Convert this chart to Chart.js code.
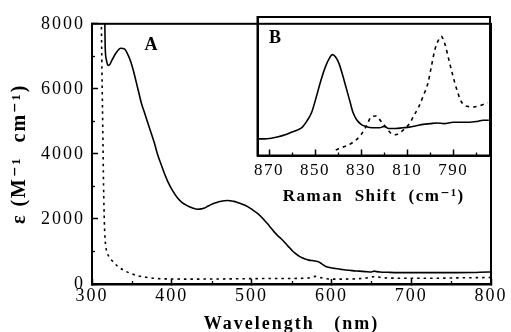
<!DOCTYPE html>
<html>
<head>
<meta charset="utf-8">
<script src="https://cdn.jsdelivr.net/npm/chart.js@4/dist/chart.umd.min.js"></script>
<style>
  html, body { margin: 0; padding: 0; background: #fff; }
  #wrap { position: relative; width: 511px; height: 332px; background: #fff; }
  canvas { position: absolute; left: 0; top: 0; }
</style>
</head>
<body>
<div id="wrap">
  <canvas id="main" width="511" height="332"></canvas>
  <canvas id="inset" width="511" height="332"></canvas>
</div>
<script>
// ---------- Data: panel A (absorption spectrum) ----------
const solidWavelength = [316, 316.5, 318, 320, 322, 325, 330, 336, 341, 345, 349, 353, 357, 362, 366, 370, 374, 378, 382, 387, 391, 395, 401, 407, 413, 420, 426, 432, 437, 441, 445, 449, 453, 458, 462, 466, 470, 474, 478, 482, 487, 491, 495, 499, 503, 507, 511, 516, 520, 524, 528, 533, 537, 541, 545, 549, 552, 556, 560, 564, 568, 572, 576, 580, 584, 588, 593, 599, 605, 612, 618, 626, 635, 643, 650, 654, 657, 661, 670, 683, 700, 716, 737, 758, 778, 797, 800];
const solidEpsilon    = [8200, 7300, 6900, 6720, 6740, 6880, 7100, 7250, 7220, 7050, 6800, 6450, 6050, 5550, 5250, 4950, 4650, 4350, 4000, 3650, 3380, 3150, 2870, 2650, 2500, 2400, 2340, 2300, 2310, 2340, 2390, 2440, 2480, 2520, 2545, 2560, 2565, 2555, 2540, 2510, 2470, 2430, 2380, 2320, 2250, 2180, 2090, 1960, 1850, 1730, 1610, 1480, 1390, 1290, 1180, 1080, 1000, 920, 850, 800, 760, 735, 720, 705, 680, 620, 540, 500, 475, 450, 430, 410, 395, 380, 370, 395, 380, 370, 360, 350, 350, 350, 350, 350, 355, 370, 370];

const dashedWavelength = [311.5, 312.5, 313.5, 314.5, 315.5, 316.5, 318, 321, 325, 332, 340, 348, 358, 370, 380, 400, 420, 460, 500, 540, 570, 576, 580, 586, 594, 610, 640, 650, 655, 662, 680, 720, 760, 800];
const dashedEpsilon    = [8500, 6500, 4800, 3000, 1900, 1350, 1050, 850, 720, 550, 420, 330, 250, 200, 170, 155, 150, 155, 165, 170, 180, 215, 235, 200, 160, 150, 175, 210, 235, 200, 180, 175, 190, 200];

// ---------- Data: panel B (Raman inset, arbitrary intensity) ----------
const ramanShiftSolid = [875, 872, 869, 866, 863, 860, 857.5, 855.5, 853.5, 851.5, 849.5, 847.5, 845.5, 843.5, 842.5, 841, 839.5, 838, 836.5, 835, 833.5, 832, 830, 828, 825, 822, 820, 818, 815, 812, 809, 806, 803, 800, 797, 794, 790, 786, 783, 780, 777, 774.5];
const ramanSolid      = [12, 12, 12.5, 13.5, 15, 17, 18.5, 20.5, 25, 31, 42, 54, 64, 71, 72.8, 71, 66, 58, 49, 40, 31, 26, 22.5, 21, 20, 20, 21, 19.5, 19.5, 20, 20.5, 21.5, 22.5, 23, 23.5, 23, 24, 24, 24, 24.5, 25.5, 25.5];

const ramanShiftDashed = [841, 838, 834, 830, 827.5, 825.5, 823.5, 821.5, 819.5, 817, 815, 812, 809, 807, 805, 803, 801, 799.5, 798, 796.5, 795.2, 793.5, 792, 790.5, 788.5, 786.5, 784, 781, 778.5, 775];
const ramanDashed      = [4, 6, 9, 15, 22, 28, 28.5, 25, 21, 16, 15, 18, 23, 29, 35, 43, 52, 64, 76, 83, 86, 80, 70, 60, 48, 39, 35.5, 35, 36, 38];

// ---------- Tick values ----------
const mainXTicks = [300, 400, 500, 600, 700, 800];
const mainXMinor = [350, 450, 550, 650, 750];
const mainYTicks = [0, 2000, 4000, 6000, 8000];
const mainYMinor = [1000, 3000, 5000, 7000];
const insetXTicks = [870, 850, 830, 810, 790];
const insetXMinor = [860, 840, 820, 800, 780];

// ---------- Text ----------
const mainXTitle = 'Wavelength   (nm)';
const mainYTitle = 'ε (M⁻¹  cm⁻¹)';
const insetXTitle = 'Raman  Shift  (cm⁻¹)';
const panelA = 'A';
const panelB = 'B';

const SERIF = "'Liberation Serif', 'Times New Roman', 'DejaVu Serif', serif";
const plain = v => String(v);

// ---------- Helper plugins ----------
const spacingPlugin = {
  id: 'spacing',
  beforeDraw(chart, args, opts) { chart.ctx.letterSpacing = opts.value || '0px'; },
  afterDraw(chart) { chart.ctx.letterSpacing = '0px'; }
};
const minorTicksPlugin = {
  id: 'minorTicks',
  afterDraw(chart, args, opts) {
    const ctx = chart.ctx, a = chart.chartArea;
    ctx.save();
    ctx.strokeStyle = '#000';
    ctx.lineWidth = opts.width || 1.2;
    (opts.x || []).forEach(v => {
      const px = Math.round(chart.scales.x.getPixelForValue(v)) + 0.5;
      ctx.beginPath(); ctx.moveTo(px, a.bottom); ctx.lineTo(px, a.bottom - opts.len); ctx.stroke();
    });
    (opts.y || []).forEach(v => {
      const py = Math.round(chart.scales.y.getPixelForValue(v)) + 0.5;
      ctx.beginPath(); ctx.moveTo(a.left, py); ctx.lineTo(a.left + opts.len, py); ctx.stroke();
    });
    ctx.restore();
  }
};
const framePlugin = {
  id: 'frame',
  afterDraw(chart, args, opts) {
    const ctx = chart.ctx, a = chart.chartArea;
    ctx.save();
    ctx.strokeStyle = '#000';
    ctx.lineWidth = opts.width || 2;
    ctx.strokeRect(a.left, a.top, a.right - a.left, a.bottom - a.top);
    ctx.restore();
  }
};
const labelPlugin = {
  id: 'panelLabel',
  afterDraw(chart, args, opts) {
    const ctx = chart.ctx;
    ctx.save();
    ctx.fillStyle = '#000';
    ctx.font = opts.font;
    ctx.textAlign = 'center';
    ctx.textBaseline = 'middle';
    ctx.fillText(opts.text, chart.scales.x.getPixelForValue(opts.x), chart.scales.y.getPixelForValue(opts.y));
    ctx.restore();
  }
};

const pts = (xs, ys) => xs.map((x, i) => ({ x, y: ys[i] }));

// ---------- Main chart (panel A) ----------
new Chart(document.getElementById('main'), {
  type: 'line',
  data: {
    datasets: [
      { data: pts(solidWavelength, solidEpsilon), borderColor: '#000', borderWidth: 1.6, pointRadius: 0, fill: false, cubicInterpolationMode: 'monotone' },
      { data: pts(dashedWavelength, dashedEpsilon), borderColor: '#000', borderWidth: 1.6, borderDash: [2.5, 4], pointRadius: 0, fill: false, cubicInterpolationMode: 'monotone' }
    ]
  },
  options: {
    responsive: false, animation: false, devicePixelRatio: 1,
    layout: { padding: { left: 0, top: 17, right: 20, bottom: 0 } },
    plugins: {
      legend: { display: false }, tooltip: { enabled: false },
      spacing: { value: '2px' },
      minorTicks: { x: mainXMinor, y: mainYMinor, len: 3, width: 1.3 },
      frame: { width: 2 },
      panelLabel: { text: panelA, x: 374, y: 7350, font: `bold 18px ${SERIF}` }
    },
    scales: {
      x: {
        type: 'linear', position: 'bottom', min: 300, max: 800,
        afterBuildTicks: s => { s.ticks = mainXTicks.map(v => ({ value: v })); },
        afterFit: s => { s.height = 48; },
        grid: { drawOnChartArea: false, drawTicks: true, tickLength: -5, tickWidth: 1.5, tickColor: '#000' },
        border: { display: true, color: '#000', width: 2.5 },
        ticks: { color: '#000', padding: 6, maxRotation: 0, autoSkip: false, callback: plain, font: { family: SERIF, size: 18 } },
        title: { display: true, text: mainXTitle, color: '#000', padding: { top: 0, bottom: 0 }, font: { family: SERIF, size: 18, weight: 'bold', lineHeight: 0.9 } }
      },
      y: {
        type: 'linear', position: 'left', min: 0, max: 8000,
        afterBuildTicks: s => { s.ticks = mainYTicks.map(v => ({ value: v })); },
        afterFit: s => { s.width = 92; },
        grid: { drawOnChartArea: false, drawTicks: true, tickLength: -6, tickWidth: 1.5, tickColor: '#000' },
        border: { display: true, color: '#000', width: 2 },
        ticks: { color: '#000', padding: 13, autoSkip: false, callback: plain, font: { family: SERIF, size: 18 } },
        title: { display: true, text: mainYTitle, color: '#000', padding: { top: 8, bottom: 0 }, font: { family: SERIF, size: 20, weight: 'bold', lineHeight: 1.2 } }
      }
    }
  },
  plugins: [
    { id: 'whiteBg', beforeDraw(c) { const x = c.ctx; x.save(); x.fillStyle = '#fff'; x.fillRect(0, 0, c.width, c.height); x.restore(); } },
    spacingPlugin, minorTicksPlugin, framePlugin, labelPlugin
  ]
});

// ---------- Inset chart (panel B) ----------
new Chart(document.getElementById('inset'), {
  type: 'line',
  data: {
    datasets: [
      { data: pts(ramanShiftSolid, ramanSolid), borderColor: '#000', borderWidth: 1.6, pointRadius: 0, fill: false, cubicInterpolationMode: 'monotone' },
      { data: pts(ramanShiftDashed, ramanDashed), borderColor: '#000', borderWidth: 1.6, borderDash: [3.5, 4], pointRadius: 0, fill: false, cubicInterpolationMode: 'monotone' }
    ]
  },
  options: {
    responsive: false, animation: false, devicePixelRatio: 1,
    layout: { padding: { left: 257.5, top: 17, right: 21, bottom: 125.5 } },
    plugins: {
      legend: { display: false }, tooltip: { enabled: false },
      spacing: { value: '1.5px' },
      minorTicks: { x: insetXMinor, len: 3, width: 1.3 },
      frame: { width: 2 },
      panelLabel: { text: panelB, x: 867.4, y: 84.5, font: `bold 18px ${SERIF}` }
    },
    scales: {
      x: {
        type: 'linear', position: 'bottom', reverse: true, min: 774, max: 875,
        afterBuildTicks: s => { s.ticks = insetXTicks.map(v => ({ value: v })); },
        afterFit: s => { s.height = 51; },
        grid: { drawOnChartArea: false, drawTicks: true, tickLength: -6, tickWidth: 1.5, tickColor: '#000' },
        border: { display: true, color: '#000', width: 2 },
        ticks: { color: '#000', padding: 11, maxRotation: 0, autoSkip: false, callback: plain, font: { family: SERIF, size: 17 } },
        title: { display: true, text: insetXTitle, color: '#000', padding: { top: 0, bottom: 0 }, font: { family: SERIF, size: 17, weight: 'bold', lineHeight: 1.2 } }
      },
      y: {
        type: 'linear', position: 'left', min: 0, max: 100,
        afterFit: s => { s.width = 0; },
        grid: { display: false },
        border: { display: true, color: '#000', width: 2 },
        ticks: { display: false }
      }
    }
  },
  plugins: [spacingPlugin, minorTicksPlugin, framePlugin, labelPlugin]
});
</script>
</body>
</html>
